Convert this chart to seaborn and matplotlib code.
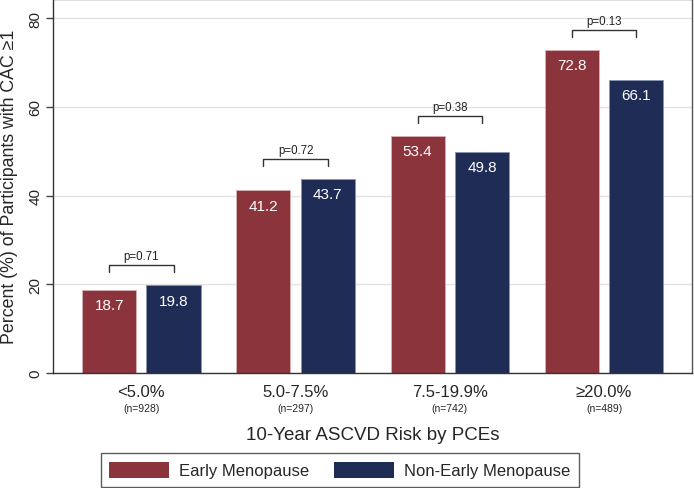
import numpy as np
import pandas as pd
import matplotlib
matplotlib.use("Agg")
import matplotlib.pyplot as plt
import seaborn as sns

# data
categories = ["<5.0%", "5.0-7.5%", "7.5-19.9%", "≥20.0%"]
n_labels = ["(n=928)", "(n=297)", "(n=742)", "(n=489)"]
early = [18.7, 41.2, 53.4, 72.8]
non_early = [19.8, 43.7, 49.8, 66.1]
p_values = ["p=0.71", "p=0.72", "p=0.38", "p=0.13"]
groups = ["Early Menopause", "Non-Early Menopause"]

df = pd.DataFrame({
    "risk": categories * 2,
    "group": [groups[0]] * len(categories) + [groups[1]] * len(categories),
    "pct": early + non_early,
})

sns.set_theme(style="white")
plt.rcParams["font.family"] = ["Liberation Sans", "DejaVu Sans"]

colors = {groups[0]: "#8c343c", groups[1]: "#1f2c56"}

fig = plt.figure(figsize=(6.94, 4.89), dpi=100)
ax = fig.add_axes([0.077, 0.235, 0.92, 0.765])

sns.barplot(data=df, x="risk", y="pct", hue="group", order=categories,
            hue_order=groups, palette=colors, width=0.835, gap=0.16,
            ax=ax, edgecolor="#d9b0b4", linewidth=0.6, saturation=1)

red_bars = ax.patches[:len(categories)]
navy_bars = ax.patches[len(categories):2 * len(categories)]

# light edge for navy bars
for bar in navy_bars:
    bar.set_edgecolor("#8a96b8")

ax.set_ylim(0, 84.3)
ax.set_xlim(-0.57, 3.57)
ax.set_yticks([0, 20, 40, 60, 80])
ax.set_yticklabels(["0", "20", "40", "60", "80"], rotation=90, va="center", fontsize=11)
ax.yaxis.grid(True, color="#e2e2e2", linewidth=1)
ax.set_axisbelow(True)
ax.tick_params(axis="y", left=True, length=5, width=1, color="#444444", pad=3)
ax.tick_params(axis="x", bottom=False, labelbottom=False)
for s in ax.spines.values():
    s.set_color("#555555")
    s.set_linewidth(1)
ax.spines["left"].set_color("#333333")
ax.spines["bottom"].set_color("#333333")

ax.set_ylabel("Percent (%) of Participants with CAC ≥1", fontsize=12.8)
ax.yaxis.set_label_coords(-0.056, 0.5)
ax.set_xlabel("")

# value labels inside bars
for bars, vals in [(red_bars, early), (navy_bars, non_early)]:
    for bar, v in zip(bars, vals):
        cx = bar.get_x() + bar.get_width() / 2
        ax.annotate(f"{v:.1f}", (cx, v), xytext=(0, -6), textcoords="offset points",
                    ha="center", va="top", color="white", fontsize=11)

# p-value brackets
for i, p in enumerate(p_values):
    rb, nb = red_bars[i], navy_bars[i]
    x1 = rb.get_x() + rb.get_width() / 2
    x2 = nb.get_x() + nb.get_width() / 2
    top = max(early[i], non_early[i]) + 4.5
    ax.plot([x1, x1, x2, x2], [top - 1.5, top, top, top - 1.5],
            color="#333333", linewidth=1)
    ax.text((x1 + x2) / 2, top + 0.8, p, ha="center", va="bottom",
            fontsize=8.3, color="#222222")

# category labels and n below axis
for i, (c, n) in enumerate(zip(categories, n_labels)):
    ax.annotate(c, (i, 0), xycoords=("data", "axes fraction"), xytext=(0, -13.5),
                textcoords="offset points", ha="center", va="center", fontsize=12)
    ax.annotate(n, (i, 0), xycoords=("data", "axes fraction"), xytext=(0, -25),
                textcoords="offset points", ha="center", va="center", fontsize=7.5)

fig.text(0.537, 1 - 436 / 489, "10-Year ASCVD Risk by PCEs", ha="center", va="center",
         fontsize=13.5)

# legend
handles, labels = ax.get_legend_handles_labels()
ax.get_legend().remove()
leg = fig.legend(handles, labels, loc="center", bbox_to_anchor=(0.49, 1 - 471 / 489),
                 ncol=2, frameon=True, fancybox=False, fontsize=12,
                 handlelength=3.6, handleheight=1.1, columnspacing=1.5,
                 handletextpad=0.6, borderpad=0.5, borderaxespad=0,
                 edgecolor="#333333")
leg.get_frame().set_linewidth(1)
for h in leg.legend_handles:
    h.set_edgecolor("none")

fig.savefig("out.png", dpi=100)
